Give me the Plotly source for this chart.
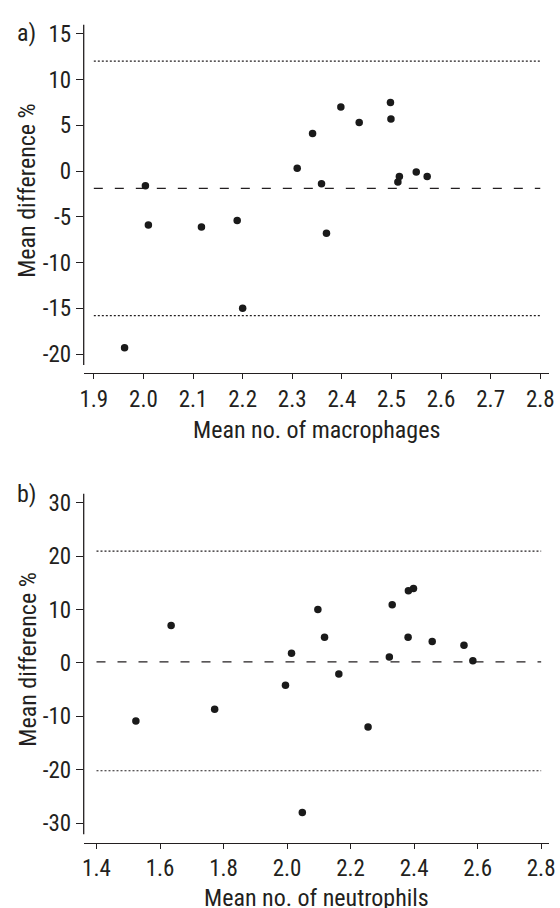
import plotly.graph_objects as go

# ---------------- data ----------------
# Panel a: macrophages
mac_x = [1.962, 2.004, 2.010, 2.117, 2.189, 2.200, 2.310, 2.341, 2.359,
         2.369, 2.398, 2.435, 2.498, 2.499, 2.513, 2.516, 2.550, 2.572]
mac_y = [-19.3, -1.6, -5.9, -6.1, -5.4, -15.0, 0.3, 4.1, -1.4,
         -6.8, 7.0, 5.3, 7.5, 5.7, -1.2, -0.6, -0.1, -0.6]
mac_limits_x = [1.9, 2.8]
mac_upper = 12.0
mac_mean = -1.9
mac_lower = -15.8
mac_xticks = [1.9, 2.0, 2.1, 2.2, 2.3, 2.4, 2.5, 2.6, 2.7, 2.8]
mac_xticktext = ["1.9", "2.0", "2.1", "2.2", "2.3", "2.4", "2.5", "2.6", "2.7", "2.8"]
mac_yticks = [-20, -15, -10, -5, 0, 5, 10, 15]
mac_yticktext = ["-20", "-15", "-10", "-5", "0", "5", "10", "15"]

# Panel b: neutrophils
neu_x = [1.524, 1.635, 1.772, 1.995, 2.014, 2.048, 2.097, 2.118, 2.163,
         2.255, 2.322, 2.331, 2.381, 2.382, 2.398, 2.457, 2.557, 2.585]
neu_y = [-10.9, 7.0, -8.7, -4.2, 1.8, -28.0, 10.0, 4.8, -2.1,
         -12.0, 1.1, 10.9, 4.8, 13.5, 13.9, 4.0, 3.3, 0.4]
neu_limits_x = [1.4, 2.8]
neu_upper = 20.9
neu_mean = 0.2
neu_lower = -20.2
neu_xticks = [1.4, 1.6, 1.8, 2.0, 2.2, 2.4, 2.6, 2.8]
neu_xticktext = ["1.4", "1.6", "1.8", "2.0", "2.2", "2.4", "2.6", "2.8"]
neu_yticks = [-30, -20, -10, 0, 10, 20, 30]
neu_yticktext = ["-30", "-20", "-10", "0", "10", "20", "30"]

x_titles = ["Mean no. of macrophages", "Mean no. of neutrophils"]
y_title = "Mean difference %"
panel_labels = ["a)", "b)"]

# ---------------- style ----------------
W, H = 560, 908
FONT = "Liberation Sans Narrow, Arial Narrow, Roboto Condensed, Roboto, DejaVu Sans Condensed, sans-serif"
TXT = "#231f20"
AX = "#231f20"
PT = "#1a1a1a"


def py(p):
    return 1 - p / H


fig = go.Figure()

panels = [
    dict(x=mac_x, y=mac_y, lx=mac_limits_x, up=mac_upper, mn=mac_mean, lo=mac_lower,
         xa="x", ya="y"),
    dict(x=neu_x, y=neu_y, lx=neu_limits_x, up=neu_upper, mn=neu_mean, lo=neu_lower,
         xa="x2", ya="y2"),
]

for p in panels:
    fig.add_trace(go.Scatter(x=p["lx"], y=[p["up"]] * 2, mode="lines",
                             line=dict(color=AX, width=1.2, dash="2px,2px"),
                             xaxis=p["xa"], yaxis=p["ya"], hoverinfo="skip"))
    fig.add_trace(go.Scatter(x=p["lx"], y=[p["lo"]] * 2, mode="lines",
                             line=dict(color=AX, width=1.2, dash="2px,2px"),
                             xaxis=p["xa"], yaxis=p["ya"], hoverinfo="skip"))
    fig.add_trace(go.Scatter(x=p["lx"], y=[p["mn"]] * 2, mode="lines",
                             line=dict(color=AX, width=1.2, dash="9px,12px"),
                             xaxis=p["xa"], yaxis=p["ya"], hoverinfo="skip"))
    fig.add_trace(go.Scatter(x=p["x"], y=p["y"], mode="markers",
                             marker=dict(color=PT, size=7.5),
                             xaxis=p["xa"], yaxis=p["ya"]))

xcommon = dict(showgrid=False, zeroline=False, showline=True, linecolor=AX, linewidth=1.3,
               ticks="outside", ticklen=5, tickwidth=1.3, tickcolor=AX,
               tickfont=dict(family=FONT, size=23, color=TXT))
ycommon = dict(showgrid=False, zeroline=False, showline=False,
               ticks="outside", ticklen=7, tickwidth=1.3, tickcolor=AX,
               tickfont=dict(family=FONT, size=23, color=TXT))

fig.update_layout(
    width=W, height=H,
    margin=dict(l=0, r=0, t=0, b=0),
    paper_bgcolor="white", plot_bgcolor="white",
    showlegend=False,
    xaxis=dict(domain=[81 / W, 554 / W], range=[1.8796, 2.8178],
               tickvals=mac_xticks, ticktext=mac_xticktext, anchor="y", **xcommon),
    yaxis=dict(domain=[py(370.7), py(20.7)], range=[-22.07, 16.0],
               tickvals=mac_yticks, ticktext=mac_yticktext, anchor="x", **ycommon),
    xaxis2=dict(domain=[81 / W, 554 / W], range=[1.3597, 2.825],
                tickvals=neu_xticks, ticktext=neu_xticktext, anchor="y2", **xcommon),
    yaxis2=dict(domain=[py(842.3), py(491.7)], range=[-33.65, 31.7],
                tickvals=neu_yticks, ticktext=neu_yticktext, anchor="x2", **ycommon),
)

# detached y-axis lines
fig.add_shape(type="line", xref="x domain", yref="y", x0=0, x1=0, y0=-21.2, y1=16.0,
              line=dict(color=AX, width=1.3))
fig.add_shape(type="line", xref="x2 domain", yref="y2", x0=0, x1=0, y0=-32.1, y1=31.7,
              line=dict(color=AX, width=1.3))

tfont = dict(family=FONT, size=24, color=TXT)
# axis titles
fig.add_annotation(text=x_titles[0], xref="paper", yref="paper", x=317.5 / W, y=py(428),
                   showarrow=False, font=tfont, xanchor="center", yanchor="middle")
fig.add_annotation(text=x_titles[1], xref="paper", yref="paper", x=317.5 / W, y=py(913),
                   showarrow=False, font=tfont, xanchor="center", yanchor="bottom",
                   borderpad=0)
fig.add_annotation(text=y_title, xref="paper", yref="paper", x=24 / W, y=py(187),
                   showarrow=False, font=tfont, textangle=-90,
                   xanchor="center", yanchor="middle")
fig.add_annotation(text=y_title, xref="paper", yref="paper", x=24 / W, y=py(658),
                   showarrow=False, font=tfont, textangle=-90,
                   xanchor="center", yanchor="middle")
# panel labels
fig.add_annotation(text=panel_labels[0], xref="paper", yref="paper", x=23 / W, y=py(29),
                   showarrow=False, font=tfont, xanchor="center", yanchor="middle")
fig.add_annotation(text=panel_labels[1], xref="paper", yref="paper", x=23 / W, y=py(492),
                   showarrow=False, font=tfont, xanchor="center", yanchor="middle")

fig.write_html("out.html")
